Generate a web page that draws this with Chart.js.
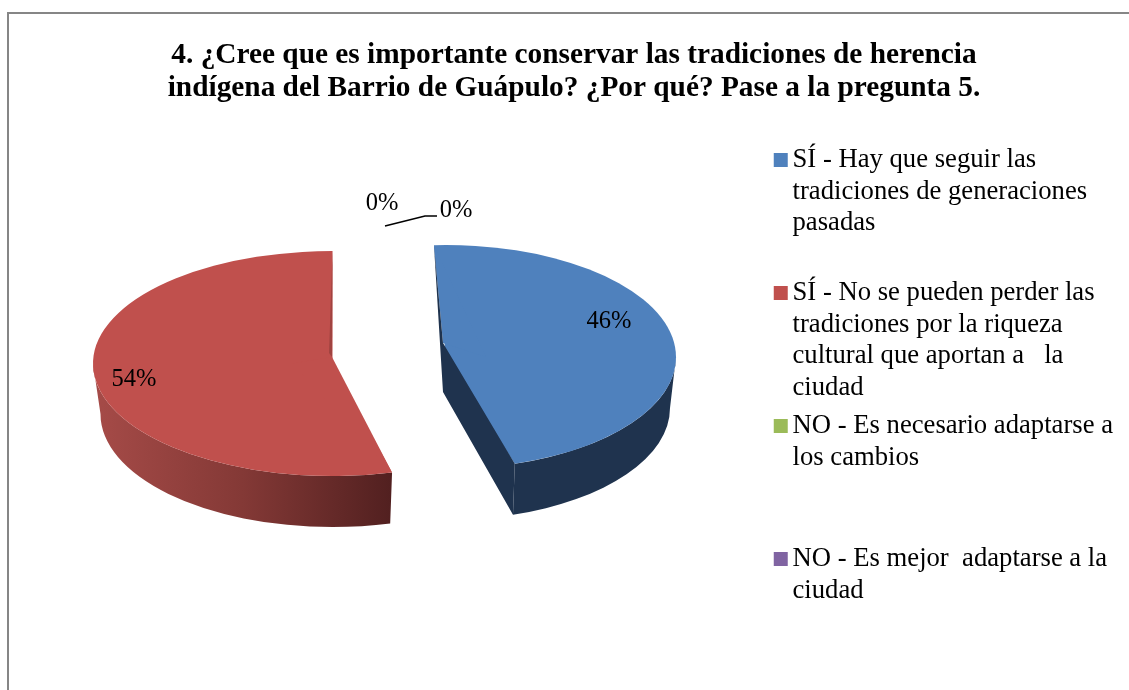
<!DOCTYPE html>
<html lang="es">
<head>
<meta charset="utf-8">
<title>Tradiciones de herencia indígena</title>
<script src="https://cdn.jsdelivr.net/npm/chart.js@4/dist/chart.umd.js"></script>
<style>
html,body{margin:0;padding:0;background:#fff;width:1129px;height:690px;overflow:hidden}
#frame{position:absolute;left:7px;top:12px;width:1122px;height:678px;border-left:2px solid #868686;border-top:2px solid #868686;box-sizing:border-box}
canvas{position:absolute;left:0;top:0}
</style>
</head>
<body>
<div id="frame"></div>
<canvas id="c" width="1129" height="690"></canvas>
<script>
const titleLines = [
  '4. ¿Cree que es importante conservar las tradiciones de herencia',
  'indígena del Barrio de Guápulo? ¿Por qué? Pase a la pregunta 5.'
];
const categoryLines = [
  ['SÍ - Hay que seguir las', 'tradiciones de generaciones', 'pasadas', ''],
  ['SÍ - No se pueden perder las', 'tradiciones por la riqueza', 'cultural que aportan a   la', 'ciudad'],
  ['NO - Es necesario adaptarse a', 'los cambios', '', ''],
  ['NO - Es mejor  adaptarse a la', 'ciudad', '', '']
];
const values = [46, 54, 0, 0];
const sliceColors = ['#4F81BD', '#C0504D', '#9BBB59', '#8064A2'];

const SERIF = '"Liberation Serif", "Times New Roman", serif';

// Perspective look of each slice: top ellipse, bottom ellipse, apex position, tilt.
const look = [
  {cx:446, cy:357, rx:230, ry:112, bcy:408, brx:224, bry:112, ax:443, lift:14, depth:49, tilt:-3, face:true},
  {cx:332.5, cy:363.5, rx:239.5, ry:112.5, bcy:414, brx:232, bry:113, ax:332, lift:6.5, depth:0, tilt:0, face:false}
];
const labelPlaces = [[609,322],[134,380],[456,211],[382,204]];

function boxImage(color){
  const b = document.createElement('canvas');
  b.width = 20; b.height = 14;
  const g = b.getContext('2d');
  g.fillStyle = color; g.fillRect(5,0,14,14);
  return b;
}

function wall(ctx, arc, g, i){
  const a = i === 0 ? 0 : arc.startAngle;
  const b = i === 0 ? arc.endAngle + g.tilt*Math.PI/180 : Math.PI;
  ctx.save();
  ctx.beginPath();
  ctx.ellipse(g.cx, g.cy, g.rx, g.ry, 0, a, b);
  ctx.ellipse(g.cx, g.bcy, g.brx, g.bry, 0, b, a, true);
  ctx.closePath();
  if (i === 0) {
    ctx.fillStyle = '#1F334E';
  } else {
    const gr = ctx.createLinearGradient(g.cx-g.rx, 0, g.cx+58, 0);
    gr.addColorStop(0, '#A64B48');
    gr.addColorStop(0.5, '#843936');
    gr.addColorStop(1, '#522020');
    ctx.fillStyle = gr;
  }
  ctx.fill();
  ctx.restore();
}

function pt(g, ang){ return [g.cx + g.rx*Math.cos(ang), g.cy + g.ry*Math.sin(ang)]; }

function apexPieces(ctx, arc, g, i){
  const t = g.tilt*Math.PI/180;
  const S0 = pt(g, arc.startAngle + t), E = pt(g, arc.endAngle + t);
  const A = [g.ax, g.cy - g.lift];
  ctx.save();
  if (g.face) {
    const Eb = [g.cx + g.brx*Math.cos(arc.endAngle+t), g.bcy + g.bry*Math.sin(arc.endAngle+t)];
    ctx.fillStyle = sliceColors[i];
    ctx.beginPath();
    ctx.moveTo(S0[0],S0[1]); ctx.lineTo(A[0],A[1]); ctx.lineTo(g.cx+40,g.cy);
    ctx.closePath(); ctx.fill();
    ctx.fillStyle = '#1F334E';
    ctx.beginPath();
    ctx.moveTo(A[0],A[1]); ctx.lineTo(E[0],E[1]); ctx.lineTo(Eb[0],Eb[1]);
    ctx.lineTo(A[0],A[1]+g.depth); ctx.lineTo(S0[0],S0[1]);
    ctx.closePath(); ctx.fill();
  } else {
    ctx.fillStyle = sliceColors[i];
    ctx.beginPath();
    ctx.moveTo(A[0],A[1]); ctx.lineTo(S0[0],S0[1]); ctx.lineTo(g.cx-40,g.cy);
    ctx.closePath(); ctx.fill();
    ctx.fillStyle = '#A04340';
    ctx.beginPath();
    ctx.moveTo(E[0],E[1]); ctx.lineTo(A[0],A[1]); ctx.lineTo(A[0]-3,A[1]-4);
    ctx.closePath(); ctx.fill();
  }
  ctx.restore();
}

const pie3d = {
  id:'pie3d',
  beforeDatasetsDraw(chart){
    chart.getDatasetMeta(0).data.forEach((arc,i)=>{
      if (arc.__wrapped) return;
      arc.__wrapped = true;
      const base = arc.draw;
      arc.draw = function(ctx, area){
        const g = look[i];
        if (!g || values[i] === 0) return;
        wall(ctx, this, g, i);
        ctx.save();
        ctx.translate(g.cx, g.cy);
        ctx.scale(g.rx/this.outerRadius, g.ry/this.outerRadius);
        ctx.rotate(g.tilt*Math.PI/180);
        ctx.translate(-this.x, -this.y);
        base.call(this, ctx, area);
        ctx.restore();
        apexPieces(ctx, this, g, i);
      };
    });
  },
  afterDatasetsDraw(chart){
    const ctx = chart.ctx;
    const total = values.reduce((a,b)=>a+b,0);
    ctx.save();
    ctx.strokeStyle = '#000'; ctx.lineWidth = 1.5;
    ctx.beginPath(); ctx.moveTo(385,226); ctx.lineTo(425,216); ctx.lineTo(437,216); ctx.stroke();
    ctx.fillStyle = '#000';
    ctx.font = '24.5px ' + SERIF;
    ctx.textAlign = 'center'; ctx.textBaseline = 'middle';
    values.forEach((v,i)=>{
      ctx.fillText(Math.round(v/total*100)+'%', labelPlaces[i][0], labelPlaces[i][1]);
    });
    ctx.restore();
  }
};

new Chart(document.getElementById('c'), {
  type:'pie',
  data:{
    labels: categoryLines.map(l=>l.join(' ').trim()),
    datasets:[{data:values, backgroundColor:sliceColors, borderWidth:0}]
  },
  plugins:[pie3d],
  options:{
    responsive:false,
    animation:false,
    events:[],
    layout:{padding:{top:39,left:25,right:6,bottom:0}},
    plugins:{
      tooltip:{enabled:false},
      title:{
        display:true,
        text:titleLines,
        color:'#000',
        font:{family:SERIF,size:29.33,weight:'bold',lineHeight:33/29.33},
        padding:{top:0,bottom:35}
      },
      legend:{
        display:true,
        position:'right',
        align:'start',
        fullSize:false,
        labels:{
          color:'#000',
          font:{family:SERIF,size:26.67,lineHeight:31.5/26.67},
          usePointStyle:true,
          pointStyleWidth:1,
          boxHeight:14,
          padding:7,
          generateLabels(){
            return categoryLines.map((lines,i)=>({
              text:lines,
              fillStyle:sliceColors[i],
              strokeStyle:sliceColors[i],
              lineWidth:0,
              pointStyle:boxImage(sliceColors[i]),
              hidden:false,
              index:i
            }));
          }
        }
      }
    }
  }
});
</script>
</body>
</html>
